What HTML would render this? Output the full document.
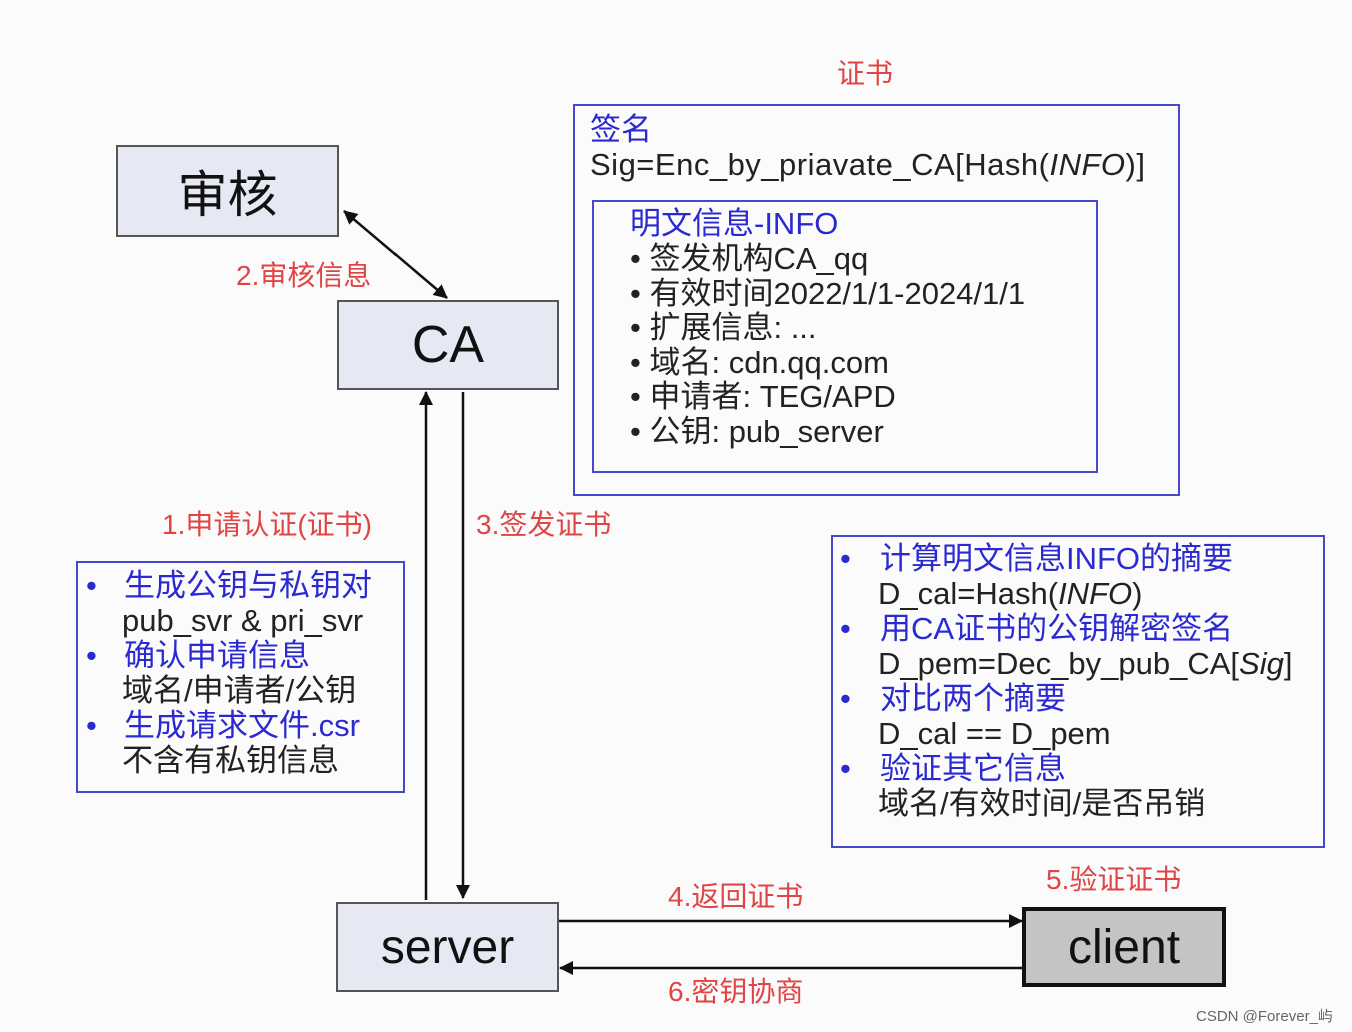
<!DOCTYPE html>
<html><head><meta charset="utf-8"><style>
body{margin:0;width:1352px;height:1032px;background:#fbfbfb;position:relative;overflow:hidden;font-family:"Liberation Sans","Noto Sans CJK SC",sans-serif;}
.a{position:absolute;white-space:nowrap;}
.box{position:absolute;background:#e6e9f3;border:2px solid #555;box-sizing:border-box;display:flex;align-items:center;justify-content:center;color:#111;}
.r{color:#e04444;font-size:28px;}
.b{color:#2a2ad0;}
.k{color:#222;}
.fb{position:absolute;border:2px solid #4848cc;box-sizing:border-box;}
.t{font-size:31px;line-height:35px;}
.l{position:absolute;white-space:nowrap;font-size:31px;line-height:35px;}
</style></head><body>
<div class="a r" style="left:837px;top:52px">证书</div>
<div class="fb" style="left:573px;top:104px;width:607px;height:392px"></div>
<div class="a t b" style="left:590px;top:112px">签名</div>
<div class="a t k" style="left:590px;top:147px;letter-spacing:0.5px">Sig=Enc_by_priavate_CA[Hash(<i>INFO</i>)]</div>
<div class="fb" style="left:592px;top:200px;width:506px;height:273px"></div>
<div class="a t b" style="left:630px;top:206px">明文信息-INFO</div>
<div class="a t k" style="left:630px;top:242px;line-height:34.5px">• 签发机构CA_qq<br>• 有效时间2022/1/1-2024/1/1<br>• 扩展信息: ...<br>• 域名: cdn.qq.com<br>• 申请者: TEG/APD<br>• 公钥: pub_server</div>

<div class="box" style="left:116px;top:145px;width:223px;height:92px;font-size:50px">审核</div>
<div class="box" style="left:337px;top:300px;width:222px;height:90px;font-size:52px">CA</div>
<div class="box" style="left:336px;top:902px;width:223px;height:90px;font-size:48px">server</div>
<div class="box" style="left:1022px;top:907px;width:204px;height:80px;font-size:48px;background:#c4c4c4;border:4px solid #111">client</div>

<div class="a r" style="left:236px;top:254px">2.审核信息</div>
<div class="a r" style="left:162px;top:503px">1.申请认证(证书)</div>
<div class="a r" style="left:476px;top:503px">3.签发证书</div>
<div class="a r" style="left:668px;top:875px">4.返回证书</div>
<div class="a r" style="left:668px;top:970px">6.密钥协商</div>
<div class="a r" style="left:1046px;top:858px">5.验证证书</div>

<div class="fb" style="left:76px;top:561px;width:329px;height:232px"></div>
<div class="l b" style="left:86px;top:568px">•</div><div class="l b" style="left:124px;top:568px">生成公钥与私钥对</div>
<div class="l k" style="left:122px;top:603px">pub_svr &amp; pri_svr</div>
<div class="l b" style="left:86px;top:638px">•</div><div class="l b" style="left:124px;top:638px">确认申请信息</div>
<div class="l k" style="left:122px;top:673px">域名/申请者/公钥</div>
<div class="l b" style="left:86px;top:708px">•</div><div class="l b" style="left:124px;top:708px">生成请求文件.csr</div>
<div class="l k" style="left:122px;top:743px">不含有私钥信息</div>

<div class="fb" style="left:831px;top:535px;width:494px;height:313px"></div>
<div class="l b" style="left:840px;top:541px">•</div><div class="l b" style="left:880px;top:541px">计算明文信息INFO的摘要</div>
<div class="l k" style="left:878px;top:576px">D_cal=Hash(<i>INFO</i>)</div>
<div class="l b" style="left:840px;top:611px">•</div><div class="l b" style="left:880px;top:611px">用CA证书的公钥解密签名</div>
<div class="l k" style="left:878px;top:646px">D_pem=Dec_by_pub_CA[<i>Sig</i>]</div>
<div class="l b" style="left:840px;top:681px">•</div><div class="l b" style="left:880px;top:681px">对比两个摘要</div>
<div class="l k" style="left:878px;top:716px">D_cal == D_pem</div>
<div class="l b" style="left:840px;top:751px">•</div><div class="l b" style="left:880px;top:751px">验证其它信息</div>
<div class="l k" style="left:878px;top:786px">域名/有效时间/是否吊销</div>

<svg width="1352" height="1032" style="position:absolute;left:0;top:0">
<defs><marker id="m2" markerWidth="14" markerHeight="14" refX="13" refY="7" orient="auto" markerUnits="userSpaceOnUse"><path d="M0,0 L14,7 L0,14 z" fill="#111"/></marker></defs>
<g stroke="#111" stroke-width="2.5" fill="none">
<line x1="396" y1="255" x2="344" y2="211" marker-end="url(#m2)"/>
<line x1="394" y1="253" x2="447" y2="298" marker-end="url(#m2)"/>
<line x1="426" y1="900" x2="426" y2="392" marker-end="url(#m2)"/>
<line x1="463" y1="392" x2="463" y2="898" marker-end="url(#m2)"/>
<line x1="559" y1="921" x2="1022" y2="921" marker-end="url(#m2)"/>
<line x1="1022" y1="968" x2="560" y2="968" marker-end="url(#m2)"/>
</g></svg>
<div class="a" style="left:1196px;top:1005px;font-size:15px;color:#666">CSDN @Forever_屿</div>
</body></html>
